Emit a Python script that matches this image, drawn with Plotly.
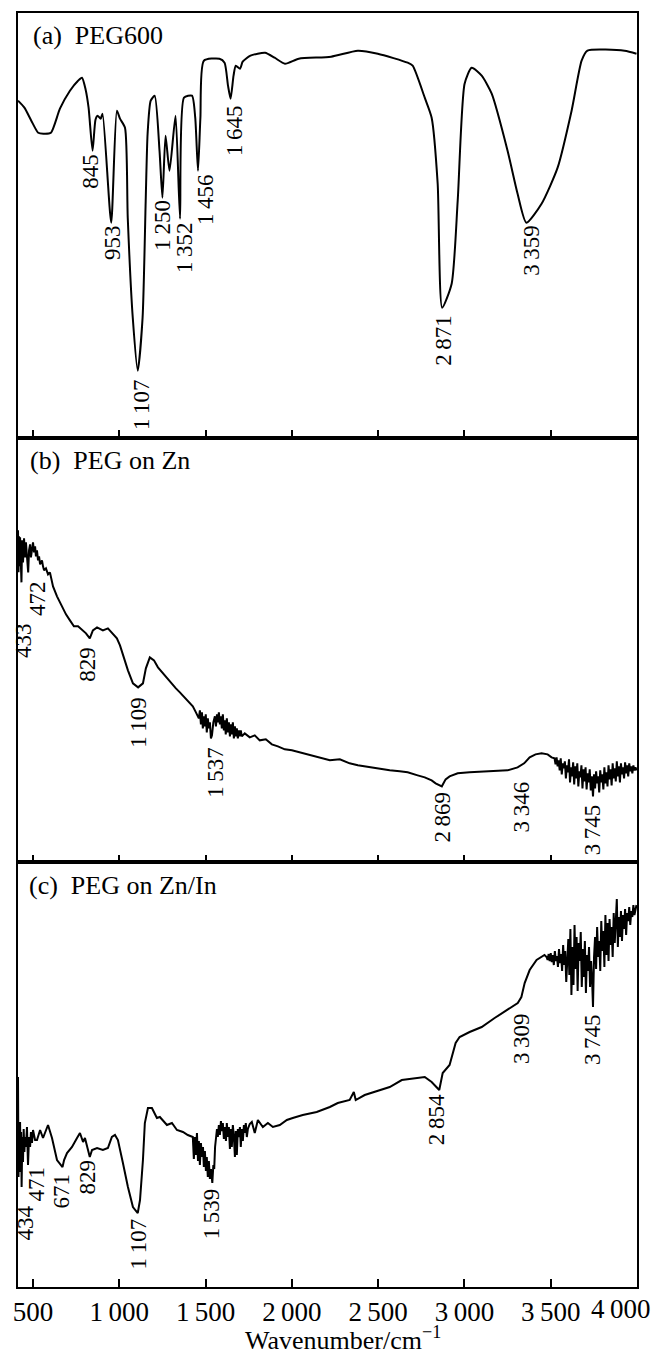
import plotly.graph_objects as go
from plotly.subplots import make_subplots

# ---------------- data (wavenumber / cm-1, transmittance in arbitrary units) -------------
# (a) PEG600
wn_a = [413, 450, 490, 530, 560, 604, 656, 714, 761, 784, 805, 822, 845, 862, 874, 892, 903,
        953, 986, 1004, 1033, 1049, 1078, 1107, 1135, 1153, 1164, 1182, 1205, 1233, 1250,
        1268, 1291, 1326, 1352, 1375, 1421, 1440, 1456, 1470, 1490, 1580, 1610, 1630, 1645,
        1662, 1675, 1700, 1715, 1760, 1845, 1900, 1960, 2040, 2227, 2382, 2498, 2671, 2700,
        2770, 2810, 2845, 2871, 2926, 2961, 3001, 3042, 3100, 3158, 3250, 3308, 3359, 3447,
        3540, 3621, 3679, 3713, 3928, 3997]
t_a = [337, 330, 317, 305, 304, 305, 329, 347, 357, 360, 348, 330, 287, 318, 322, 319, 324,
       215, 327, 319, 310, 220, 120, 67, 120, 237, 304, 337, 342, 287, 240,
       302, 267, 322, 219, 340, 342, 320, 267, 320, 377, 379, 375, 352, 339,
       362, 372, 369, 376, 382, 385, 380, 374, 379, 381, 387, 384, 375, 372,
       340, 320, 254, 130, 154, 237, 354, 370, 362, 344, 287, 244, 215, 234,
       270, 327, 377, 387, 387, 384]

# (b) PEG on Zn
wn_b = [413, 416, 419, 422, 425, 428, 433, 437, 442, 448, 454, 459, 465, 472, 477, 483, 488,
        494, 500, 506, 512, 517, 523, 529, 535, 541, 552, 558, 564, 575, 587, 598, 616, 639,
        668, 691, 714, 737, 761, 784, 807, 829, 847, 871, 905, 934, 963, 986, 1004, 1027,
        1050, 1079, 1109, 1137, 1154, 1177, 1201, 1224, 1253, 1276, 1305, 1328, 1351, 1380,
        1409, 1426, 1444, 1461, 1467, 1473, 1479, 1484, 1490, 1496, 1501, 1507, 1513, 1519,
        1525, 1531, 1537, 1545, 1554, 1560, 1566, 1571, 1577, 1583, 1589, 1594, 1600, 1606,
        1611, 1617, 1623, 1629, 1635, 1641, 1646, 1652, 1658, 1664, 1670, 1675, 1681, 1687,
        1693, 1699, 1704, 1710, 1727, 1756, 1785,
        1814, 1849, 1884, 1919, 1959, 2000, 2046, 2104, 2162, 2220, 2278, 2335, 2382, 2451,
        2509, 2567, 2625, 2671, 2729, 2770, 2810, 2833, 2869, 2891, 2914, 2961, 3030, 3146,
        3250, 3308, 3346, 3378, 3412, 3447, 3482, 3505, 3516,
        3522, 3528, 3534, 3540, 3546, 3552, 3558, 3564, 3570, 3576, 3582, 3588, 3594, 3600,
        3606, 3612, 3618, 3624, 3630, 3636, 3642, 3648, 3654, 3660, 3666, 3672, 3678, 3684,
        3690, 3696, 3702, 3708, 3714, 3720, 3726, 3732, 3738, 3745, 3751, 3757, 3763, 3769,
        3775, 3781, 3787, 3793, 3799, 3805, 3811, 3817, 3823, 3829, 3835, 3841, 3847, 3853,
        3859, 3865, 3871, 3877, 3883, 3889, 3895, 3901, 3907, 3913, 3919, 3925, 3931, 3937,
        3943, 3949, 3955, 3961, 3967, 3973, 3979, 3985, 3991, 3998]
t_b = [332, 290, 326, 296, 325, 300, 280, 322, 300, 324, 305, 320, 308, 290, 312, 318, 305,
       315, 320, 310, 316, 306, 312, 302, 306, 298, 302, 296, 292, 294, 288, 290, 276, 266,
       256, 248, 242, 236, 236, 232, 229, 224, 232, 235, 232, 234, 229, 224, 217, 204,
       192, 179, 175, 179, 194, 205, 202, 195, 189, 184, 179, 174, 170, 165,
       159, 156, 150, 144, 152, 138, 150, 134, 146, 136, 148, 130, 144, 134,
       140, 124, 127, 140, 146, 136, 148, 140, 150, 138, 146, 134, 148, 132,
       142, 128, 144, 130, 140, 126, 138, 128, 140, 124, 136, 126, 134, 124,
       132, 126, 132, 126, 129, 125, 127,
       122, 123, 118, 116, 113, 112, 110, 107, 105, 102, 103, 99, 97, 95,
       94, 92, 91, 90, 87, 85, 82, 79, 76, 83, 86, 89, 90, 91,
       92, 95, 99, 105, 108, 109, 108, 105, 104,
       104, 98, 105, 96, 102, 92, 104, 88, 99, 94, 101, 84, 97, 90,
       103, 80, 95, 86, 100, 78, 96, 84, 99, 76, 91, 85, 97, 74,
       93, 81, 95, 73, 89, 80, 93, 72, 86, 66, 88, 74, 91, 79,
       86, 70, 92, 80, 88, 73, 95, 79, 90, 76, 97, 83, 93, 77,
       99, 84, 94, 81, 101, 86, 96, 80, 99, 88, 95, 84, 100, 89,
       97, 86, 99, 91, 96, 89, 97, 92, 95, 92]

# (c) PEG on Zn/In
wn_c = [413, 416, 419, 422, 425, 428, 431, 434, 438, 442, 446, 450, 454, 459, 465, 471, 477,
        483, 488, 494, 500, 512, 523, 541, 558, 587, 610, 627, 639, 671, 680, 697, 726, 755,
        772, 790, 801, 829, 842, 871, 905, 934, 957, 975, 992, 1021, 1050, 1079, 1107, 1120,
        1137, 1148, 1166, 1189, 1218, 1235, 1276, 1305, 1334, 1369, 1397,
        1426, 1432, 1438, 1444, 1450, 1456, 1461, 1467, 1473, 1479, 1485, 1490, 1496, 1502,
        1507, 1513, 1519, 1525, 1531, 1539, 1545, 1550, 1555, 1560, 1566, 1571, 1577, 1583,
        1589, 1594, 1600, 1606, 1612, 1618, 1623, 1629, 1635, 1641, 1647, 1652, 1658, 1664,
        1670, 1675, 1681, 1687, 1693, 1699, 1704, 1710, 1716, 1722, 1727, 1733, 1739, 1745,
        1756, 1768, 1785, 1803, 1832, 1861, 1890, 1930, 1971, 2005,
        2063, 2144, 2220, 2266, 2335, 2359, 2370, 2422, 2480, 2567, 2637, 2712, 2770, 2810,
        2854, 2874, 2914, 2949, 2972, 3030, 3100, 3175, 3244, 3309, 3330, 3349, 3378, 3418,
        3464, 3476, 3482, 3488, 3494, 3500, 3506, 3512, 3518, 3524, 3530, 3536, 3542, 3548,
        3554, 3560, 3566, 3572, 3578, 3584, 3590, 3596, 3602, 3608, 3614, 3620, 3626, 3632,
        3638, 3644, 3650, 3656, 3662, 3668, 3674, 3680, 3686, 3692, 3698, 3704, 3710, 3716,
        3722, 3728, 3734, 3740, 3745, 3751, 3757, 3763, 3769, 3775, 3781, 3787, 3793, 3799,
        3805, 3811, 3817, 3823, 3829, 3835, 3841, 3847, 3853, 3859, 3865, 3871, 3877, 3883,
        3889, 3895, 3901, 3907, 3913, 3919, 3925, 3931, 3937, 3943, 3949, 3955, 3961, 3967,
        3973, 3979, 3985, 3991, 3997]
t_c = [210, 110, 165, 115, 165, 125, 155, 100, 150, 125, 158, 135, 150, 140, 160, 122, 150,
       140, 155, 144, 157, 147, 147, 157, 149, 162, 149, 134, 127, 120, 127, 134, 140, 149,
       154, 145, 149, 130, 137, 139, 137, 139, 150, 152, 147, 124, 100, 80, 74, 87,
       127, 164, 179, 179, 169, 170, 162, 164, 157, 155, 152,
       150, 128, 150, 132, 154, 126, 146, 122, 144, 130, 140, 120, 136, 116,
       130, 110, 126, 108, 118, 104, 122, 118, 140, 150, 158, 150, 162, 152,
       166, 156, 164, 148, 160, 146, 164, 150, 160, 138, 158, 140, 162, 150,
       130, 156, 132, 158, 150, 160, 140, 158, 146, 162, 154, 164, 150, 158,
       163, 165, 154, 167, 160, 164, 160, 162, 167, 169,
       172, 175, 180, 184, 187, 195, 187, 192, 195, 200, 207, 209, 210, 205,
       197, 214, 222, 244, 250, 255, 260, 269, 277, 284, 290, 304, 317, 327,
       332, 330, 327, 333, 326, 334, 325, 332, 322, 336, 326, 331, 320, 338,
       324, 333, 316, 342, 322, 336, 305, 330, 348, 312, 358, 292, 340, 302,
       362, 318, 350, 296, 344, 326, 355, 300, 338, 310, 346, 294, 332, 316,
       340, 300, 326, 306, 280, 330, 350, 318, 360, 330, 346, 316, 366, 336,
       356, 320, 372, 332, 364, 326, 368, 342, 360, 330, 374, 344, 366, 388,
       340, 370, 350, 376, 346, 372, 358, 378, 352, 374, 366, 380, 362, 376,
       370, 382, 372, 378, 382]

# peak labels (text) per panel
labels_a = ["845", "953", "1\u2009107", "1\u2009250", "1\u2009352", "1\u2009456", "1\u2009645",
            "2\u2009871", "3\u2009359"]
labels_b = ["433", "472", "829", "1\u2009109", "1\u2009537", "2\u2009869", "3\u2009346",
            "3\u2009745"]
labels_c = ["434", "471", "671", "829", "1\u2009107", "1\u2009539", "2\u2009854", "3\u2009309",
            "3\u2009745"]

panel_titles = ["(a)\u00a0\u00a0PEG600", "(b)\u00a0\u00a0PEG on Zn", "(c)\u00a0\u00a0PEG on Zn/In"]

tick_vals = [500, 1000, 1500, 2000, 2500, 3000, 3500, 4000]
tick_text = ["500", "1\u2009000", "1\u2009500", "2\u2009000", "2\u2009500", "3\u2009000",
             "3\u2009500", "4\u2009000"]

# ---------------- label placement (top of rotated text, data coords) -------------
pos_a = [(834, 285), (957, 214), (1125, 60), (1250, 239), (1374, 217), (1496, 265),
         (1664, 334), (2874, 124), (3389, 214)]
pos_b = [(448, 240), (529, 282), (818, 217), (1114, 167), (1560, 117), (2874, 72),
         (3331, 82), (3742, 59)]
pos_c = [(454, 82), (523, 122), (668, 114), (818, 129), (1114, 70), (1536, 100),
         (2839, 194), (3331, 275), (3742, 274)]

FONT = "Liberation Serif, Times New Roman, serif"
XR = [413, 4000]
YR = [0, 424.7]

fig = make_subplots(rows=3, cols=1, shared_xaxes=True, vertical_spacing=0)

series = [(wn_a, t_a, "spline"), (wn_b, t_b, "linear"), (wn_c, t_c, "linear")]
for i, (xs, ys, shape) in enumerate(series, start=1):
    line = dict(color="black", width=2, shape=shape)
    if shape == "spline":
        line["smoothing"] = 0.6
    fig.add_trace(go.Scatter(x=xs, y=ys, mode="lines", line=line,
                             showlegend=False, hoverinfo="skip"),
                  row=i, col=1)

for i in range(1, 4):
    fig.update_xaxes(range=XR, showline=True, mirror=True, linecolor="black", linewidth=1.5,
                     ticks="inside", ticklen=8, tickwidth=1.5, tickcolor="black",
                     tickvals=tick_vals[:-1], ticktext=tick_text[:-1],
                     showgrid=False, zeroline=False, row=i, col=1)
    fig.update_yaxes(range=YR, showline=True, mirror=True, linecolor="black", linewidth=1.5,
                     showticklabels=False, ticks="", showgrid=False, zeroline=False,
                     row=i, col=1)
fig.update_xaxes(showticklabels=True, tickfont=dict(family=FONT, size=27, color="black"),
                 row=3, col=1)

annotations = []
for (labels, pos, ax) in [(labels_a, pos_a, ""), (labels_b, pos_b, "2"), (labels_c, pos_c, "3")]:
    for txt, (px, py) in zip(labels, pos):
        annotations.append(dict(x=px, y=py, xref="x" + ax, yref="y" + ax, text=txt,
                                textangle=-90, showarrow=False, xanchor="center",
                                yanchor="top", font=dict(family=FONT, size=23, color="black"),
                                borderpad=0))

title_y = [0.9827, 0.649, 0.3155]
title_x = [0.021, 0.016, 0.014]
for t, tx, ty in zip(panel_titles, title_x, title_y):
    annotations.append(dict(x=tx, y=ty, xref="paper", yref="paper", text=t, showarrow=False,
                            xanchor="left", yanchor="middle",
                            font=dict(family=FONT, size=26, color="black")))

annotations.append(dict(x=0.974, y=-0.0172, xref="paper", yref="paper", text=tick_text[-1],
                        showarrow=False, xanchor="center", yanchor="middle",
                        font=dict(family=FONT, size=27, color="black")))
annotations.append(dict(x=0.525, y=-0.0405, xref="paper", yref="paper",
                        text="Wavenumber/cm<sup>\u22121</sup>", showarrow=False,
                        xanchor="center", yanchor="middle",
                        font=dict(family=FONT, size=26, color="black")))

fig.update_layout(width=655, height=1354, margin=dict(l=18, r=18, t=13, b=67),
                  paper_bgcolor="white", plot_bgcolor="white", annotations=annotations,
                  font=dict(family=FONT, color="black"))

fig.write_html("out.html")
